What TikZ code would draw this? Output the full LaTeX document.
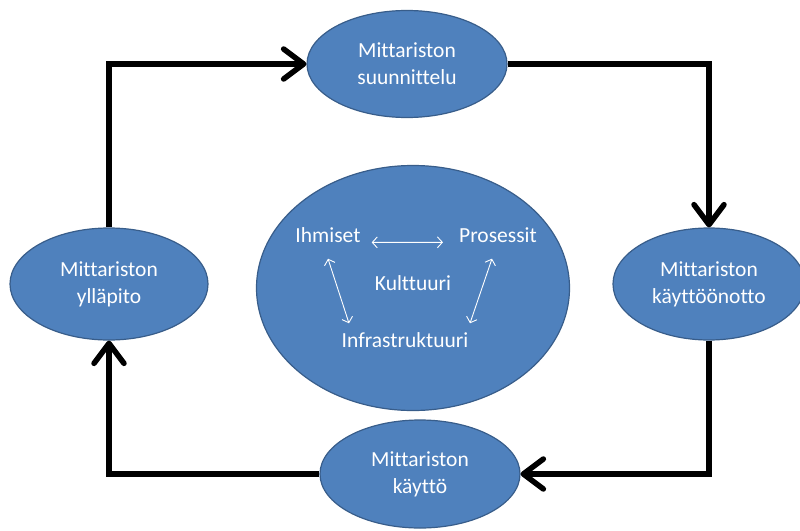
\documentclass[tikz,border=0pt]{standalone}
\usepackage{fontspec}
\setmainfont[Ligatures=NoCommon]{Carlito}
\usetikzlibrary{shapes.geometric,arrows.meta,calc}
\definecolor{ofill}{HTML}{4F81BD}
\definecolor{oline}{HTML}{385D8A}
\tikzset{
  x=1pt,y=-1pt,
  phase/.style={ellipse,draw=oline,line width=1.2pt,fill=ofill,text=white,
    inner sep=0pt,align=center,font=\fontsize{21.5}{26}\selectfont},
  word/.style={text=white,inner sep=0pt,font=\fontsize{21.5}{26}\selectfont},
  flow/.style={line width=5.5pt,-{Straight Barb[length=20pt,width=30pt,line width=5.5pt,line cap=round,line join=round]}},
  link/.style={white,line width=0.9pt,{Straight Barb[length=5pt,width=11pt]}-{Straight Barb[length=5pt,width=11pt]}}
}
\begin{document}
\begin{tikzpicture}
\useasboundingbox (0,0) rectangle (800,530);
\node[phase,minimum width=200pt,minimum height=107pt] (top) at (407,64) {Mittariston\\[1pt]suunnittelu};
\node[phase,minimum width=192pt,minimum height=112pt] (rgt) at (709,284) {Mittariston\\[1pt]käyttöönotto};
\node[phase,minimum width=198pt,minimum height=112pt] (lft) at (109,284) {Mittariston\\[1pt]ylläpito};
\node[phase,minimum width=200pt,minimum height=108pt] (bot) at (420,474) {Mittariston\\[1pt]käyttö};
\node[phase,minimum width=313pt,minimum height=245pt] (mid) at (413,288) {};
\node[word] (ih) at (328,235) {Ihmiset};
\node[word] (pr) at (498,235) {Prosessit};
\node[word] (ku) at (413,283) {Kulttuuri};
\node[word] (inf) at (405,340) {Infrastruktuuri};
\draw[flow] (lft.north) |- (top.west);
\draw[flow] (top.east) -| (rgt.north);
\draw[flow] (rgt.south) |- (bot.east);
\draw[flow] (bot.west) -| (lft.south);
\draw[link] ([xshift=11pt]ih.base east) -- ([xshift=-16pt]pr.base west);
\draw[link] ([yshift=-16pt]ih.south) -- ([xshift=-56pt,yshift=9pt]inf.north);
\draw[link] ([xshift=-6pt,yshift=-16pt]pr.south) -- ([xshift=65pt,yshift=9pt]inf.north);
\end{tikzpicture}
\end{document}
